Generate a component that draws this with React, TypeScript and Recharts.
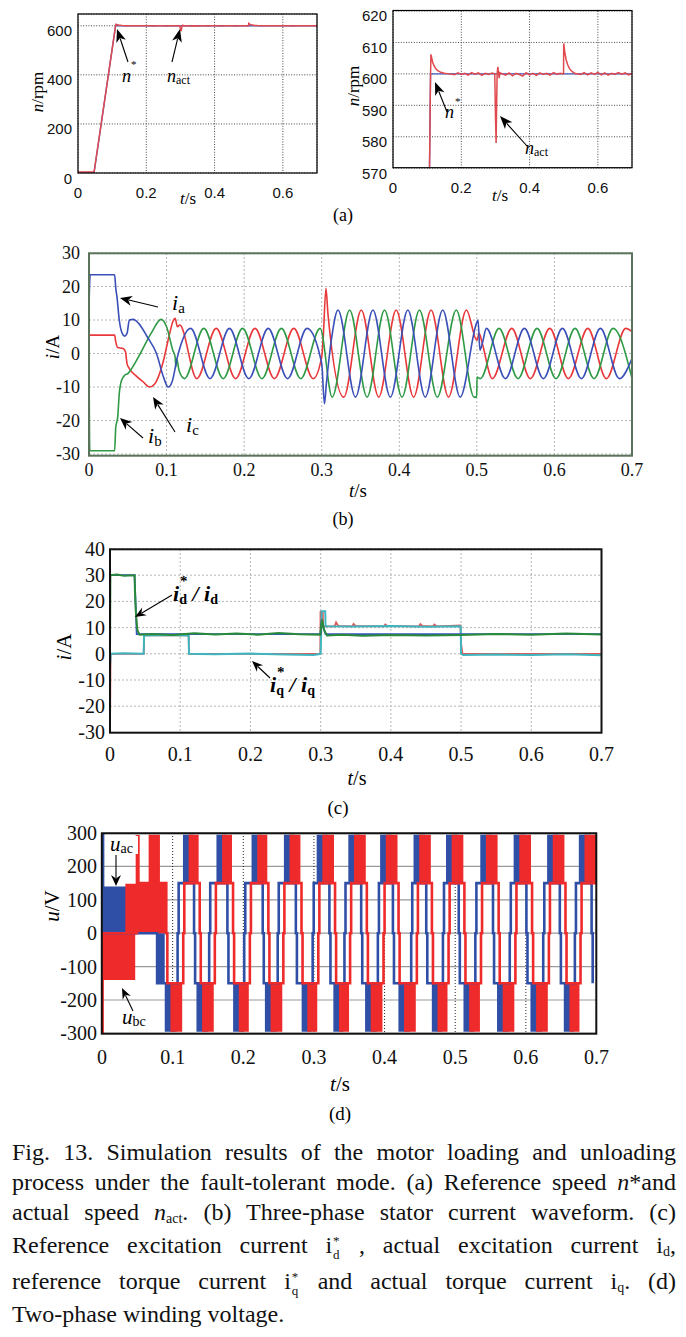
import React from 'react';
import { LineChart, ComposedChart, Line, Area, XAxis, YAxis, CartesianGrid } from 'recharts';

const SERIF = 'Liberation Serif, Tinos, DejaVu Serif, serif';
const SANS = 'Liberation Sans, Arimo, DejaVu Sans, sans-serif';

// ---------------- Panel (a): speed ----------------
const aXTicks = [0, 0.2, 0.4, 0.6];
const aLeftYTicks = [0, 200, 400, 600];
const aRightYTicks = [570, 580, 590, 600, 610, 620];
const speedRef = [[0, 0], [0.047, 0], [0.11, 600], [0.7, 600]];
const speedAct = [
  [0, 4], [0.047, 4], [0.1075, 575], [0.1095, 596], [0.111, 606.2], [0.113, 605.2], [0.116, 603.8], [0.12, 602.6],
  [0.125, 601.7], [0.13, 601.1], [0.14, 600.5], [0.15, 600.2], [0.165, 600], [0.18, 599.7], [0.19, 600.3], [0.2, 599.8],
  [0.21, 600.2], [0.22, 599.6], [0.23, 600.4], [0.24, 599.9], [0.25, 600.3], [0.26, 599.5], [0.27, 600.2], [0.28, 599.8],
  [0.29, 600.3], [0.298, 600], [0.3005, 585], [0.302, 578], [0.3035, 590], [0.305, 600], [0.307, 602.2], [0.309, 600.5],
  [0.311, 598.6], [0.313, 600.4], [0.32, 600], [0.33, 599.6], [0.34, 600.3], [0.35, 599.4], [0.36, 600.2], [0.37, 599.8],
  [0.38, 599.3], [0.39, 600.4], [0.4, 599.7], [0.41, 600.2], [0.42, 599.5], [0.43, 600.3], [0.44, 599.8], [0.45, 600.2],
  [0.46, 599.6], [0.47, 600.4], [0.48, 599.9], [0.49, 600.2], [0.4995, 600], [0.5, 609.7], [0.503, 607], [0.507, 604.5],
  [0.512, 602.8], [0.518, 601.5], [0.525, 600.7], [0.534, 600.1], [0.55, 599.8], [0.56, 600.4], [0.57, 599.7], [0.58, 600.3],
  [0.59, 599.8], [0.6, 600.5], [0.61, 599.7], [0.62, 600.3], [0.63, 599.6], [0.64, 600.2], [0.65, 599.8], [0.66, 600.4],
  [0.67, 599.9], [0.68, 600.3], [0.69, 599.7], [0.7, 600.1],
];

// ---------------- Panel (b): three-phase currents ----------------
const bXTicks = [0, 0.1, 0.2, 0.3, 0.4, 0.5, 0.6, 0.7];
const bYTicks = [-30, -20, -10, 0, 10, 20, 30];
const currentA = [
  [0, 14], [0.0015, 23.5], [0.033, 23.5], [0.0345, 19.5], [0.036, 17], [0.039, 10], [0.042, 6.5], [0.046, 5.2], [0.049, 6],
  [0.052, 10], [0.057, 10.2], [0.064, 9], [0.075, 5], [0.087, 0], [0.096, -7], [0.102, -10], [0.107, -8.5], [0.114, -1],
  [0.131, 7.5], [0.156, -7.5], [0.181, 7.5], [0.206, -7.5], [0.231, 7.5], [0.256, -7.5], [0.281, 7.5], [0.3, -3],
  [0.3035, -15], [0.306, -9], [0.313, 5], [0.321, 13], [0.3435, -13], [0.366, 13], [0.3885, -13], [0.411, 13], [0.4335, -13],
  [0.456, 13], [0.4785, -13], [0.4995, 9], [0.5015, 10], [0.504, 1], [0.507, 3], [0.5123, 7.5], [0.5368, -7.5], [0.5613, 7.5],
  [0.5858, -7.5], [0.6103, 7.5], [0.6348, -7.5], [0.6593, 7.5], [0.6838, -7.5], [0.7, -1.5],
];
const currentB = [
  [0, 0], [0.001, -29], [0.033, -29], [0.0345, -22], [0.037, -19], [0.039, -12], [0.042, -8], [0.046, -6.5], [0.05, -6],
  [0.055, -4.5], [0.065, -0.5], [0.08, 6], [0.093, 10.2], [0.1, 8], [0.108, 1], [0.111, -1], [0.112, -4], [0.113, -1.5],
  [0.116, -5], [0.123, -7.5], [0.148, 7.5], [0.173, -7.5], [0.198, 7.5], [0.223, -7.5], [0.248, 7.5], [0.273, -7.5],
  [0.298, 7.5], [0.3135, -13], [0.336, 13], [0.3585, -13], [0.381, 13], [0.4035, -13], [0.426, 13], [0.449, -13],
  [0.4735, 13], [0.4965, -13], [0.4998, -13], [0.5002, -7], [0.5045, -7.5], [0.5286, 7.5], [0.5531, -7.5], [0.5776, 7.5],
  [0.6021, -7.5], [0.6266, 7.5], [0.6511, -7.5], [0.6756, 7.5], [0.7, -7.4],
];
const currentC = [
  [0, 5], [0.0015, 5.5], [0.033, 5.5], [0.0345, 3.5], [0.037, 1.8], [0.044, 1.5], [0.047, 0.5], [0.049, -3], [0.052, -4.5],
  [0.06, -6.5], [0.07, -8.5], [0.078, -10], [0.085, -9], [0.095, -3], [0.103, 5], [0.108, 9.5], [0.111, 10.5], [0.114, 8],
  [0.117, 8.5], [0.139, -7.5], [0.164, 7.5], [0.189, -7.5], [0.214, 7.5], [0.239, -7.5], [0.264, 7.5], [0.289, -7.5],
  [0.3, -1], [0.302, 5], [0.3055, 19.5], [0.308, 12], [0.3285, -13], [0.351, 13], [0.3735, -13], [0.396, 13], [0.4185, -13],
  [0.441, 13], [0.4635, -13], [0.4865, 13], [0.5, 4], [0.503, 6], [0.507, 3], [0.52, -7.5], [0.545, 7.5], [0.569, -7.5],
  [0.594, 7.5], [0.618, -7.5], [0.643, 7.5], [0.667, -7.5], [0.692, 7.5], [0.7, 6.5],
];

// ---------------- Panel (c): dq currents ----------------
const cYTicks = [-30, -20, -10, 0, 10, 20, 30, 40];
const idRef = [[0, 30], [0.035, 30], [0.038, 7.5], [0.3, 7.5], [0.3015, 13], [0.304, 10], [0.307, 7.5], [0.7, 7.5]];
const idAct = [
  [0, 0], [0.0005, 30], [0.01, 30.3], [0.02, 29.8], [0.035, 30], [0.0355, 24], [0.037, 15], [0.039, 9], [0.042, 7.3],
  [0.06, 7.6], [0.09, 7.2], [0.12, 7.8], [0.15, 7.4], [0.18, 7.7], [0.21, 7.3], [0.24, 7.9], [0.27, 7.5], [0.2995, 7.3],
  [0.3, 9], [0.302, 13], [0.305, 9], [0.309, 7], [0.33, 7.3], [0.36, 6.9], [0.4, 7.2], [0.45, 7], [0.5, 7.2], [0.55, 7.6],
  [0.6, 7.3], [0.65, 7.7], [0.7, 7.4],
];
const iqRef = [
  [0, -30], [0.0008, 0], [0.048, 0], [0.0485, 7], [0.112, 7], [0.1125, 0], [0.2995, 0], [0.2998, 16], [0.303, 16],
  [0.3035, 10.5], [0.32, 10.5], [0.322, 12], [0.325, 10.6], [0.345, 10.5], [0.347, 11.4], [0.35, 10.6], [0.39, 10.5],
  [0.392, 11.2], [0.395, 10.6], [0.44, 10.5], [0.442, 11.3], [0.445, 10.6], [0.46, 10.5], [0.462, 11.2], [0.465, 10.5],
  [0.499, 10.8], [0.5, 4], [0.502, 0], [0.7, 0],
];
const iqAct = [
  [0, -5], [0.001, 0], [0.02, 0.2], [0.048, 0], [0.0485, 7], [0.08, 7.2], [0.112, 7], [0.1125, 0], [0.15, -0.2], [0.2, 0.1],
  [0.25, -0.3], [0.29, -0.5], [0.3, 0], [0.3015, 16.2], [0.3065, 16.2], [0.307, 10.5], [0.35, 10.4], [0.4, 10.6],
  [0.45, 10.3], [0.4995, 10.5], [0.5, 0], [0.503, -0.5], [0.55, -0.3], [0.6, -0.5], [0.65, -0.2], [0.7, -0.6],
];

// ---------------- Panel (d): winding voltages ----------------
const dYTicks = [-300, -200, -100, 0, 100, 200, 300];
// [start, end, low, high] dense PWM regions before steady state
const uacEarlyBlocks = [[0.0005, 0.034, 0, 140], [0.078, 0.0888, -150, 0]];
const ubcEarlyBlocks = [[0.0008, 0.047, -140, 0], [0.033, 0.0915, 0, 148], [0.066, 0.082, 148, 295]];
const uacEarlyLevels = [[0, 300], [0.0015, 0], [0.078, -150]];
const ubcEarlyLevels = [[0, -300], [0.0008, 0], [0.0495, 290], [0.0515, 150], [0.091, 0], [0.0925, -150]];
// [start, end] of the +300 V and -300 V PWM blocks
const ubcPosBlocks = [
  [0.1226, 0.1368], [0.17, 0.184], [0.2197, 0.234], [0.2655, 0.2809], [0.3119, 0.3284], [0.3567, 0.3734], [0.4017, 0.4183],
  [0.449, 0.4655], [0.495, 0.5115], [0.5435, 0.56], [0.5907, 0.6073], [0.6381, 0.6546], [0.683, 0.6996],
];
const ubcNegBlocks = [
  [0.0968, 0.1135], [0.1417, 0.1582], [0.1936, 0.2078], [0.2386, 0.2552], [0.2906, 0.3047], [0.3355, 0.3497], [0.3804, 0.397],
  [0.4276, 0.4442], [0.4749, 0.4891], [0.5197, 0.535], [0.5672, 0.5837], [0.6145, 0.6311], [0.6617, 0.6759],
];
const uacPosBlocks = [
  [0.1146, 0.1288], [0.162, 0.176], [0.2117, 0.226], [0.2575, 0.2729], [0.3039, 0.3204], [0.3487, 0.3654], [0.3937, 0.4103],
  [0.441, 0.4575], [0.487, 0.5035], [0.5355, 0.552], [0.5827, 0.5993], [0.6301, 0.6466], [0.675, 0.6916],
];
const uacNegBlocks = [
  [0.0888, 0.1055], [0.1337, 0.1502], [0.1856, 0.1998], [0.2306, 0.2472], [0.2826, 0.2967], [0.3275, 0.3417], [0.3724, 0.389],
  [0.4196, 0.4362], [0.4669, 0.4811], [0.5117, 0.527], [0.5592, 0.5757], [0.6065, 0.6231], [0.6537, 0.6679],
];

const toPts = (a: number[][]) => a.map(([t, v]) => ({ t, v }));

function stepLevels(early: number[][], pos: number[][], neg: number[][]) {
  const ev = early.map(([t, v]) => ({ t, v }));
  const blocks = [
    ...pos.map(([a, b]) => ({ a, b, p: 1 })),
    ...neg.map(([a, b]) => ({ a, b, p: -1 })),
  ];
  blocks.forEach((bl) => {
    ev.push({ t: bl.a - 0.0015, v: bl.p * 150 });
    ev.push({ t: bl.b + 0.0015, v: 0 });
    ev.push({ t: bl.b + 0.003, v: -bl.p * 150 });
  });
  ev.sort((x, y) => x.t - y.t);
  return ev;
}

function blockData(early: number[][], pos: number[][], neg: number[][]) {
  const out: { t: number; r: number[] }[][] = [];
  early.forEach(([a, b, lo, hi]) => out.push([{ t: a, r: [lo, hi] }, { t: b, r: [lo, hi] }]));
  pos.forEach(([a, b]) => out.push([{ t: a, r: [150, 295] }, { t: b, r: [150, 295] }]));
  neg.forEach(([a, b]) => out.push([{ t: a, r: [-295, -150] }, { t: b, r: [-295, -150] }]));
  return out;
}

const makeYTick = (family: string, size: number, dy = 0) => (p: any) => (
  <text x={p.x} y={p.y + dy} textAnchor="end" dominantBaseline="central" fontFamily={family} fontSize={size} fill="#111">
    {p.payload.value}
  </text>
);
const makeXTick = (family: string, size: number) => (p: any) => (
  <text x={p.x} y={p.y} textAnchor="middle" dominantBaseline="central" fontFamily={family} fontSize={size} fill="#111">
    {p.payload.value}
  </text>
);

type Box = { left: number; top: number; w: number; h: number };
const boxA1: Box = { left: 78, top: 14, w: 239, h: 159 };
const boxA2: Box = { left: 393, top: 10.5, w: 239, h: 157.2 };
const boxB: Box = { left: 89, top: 253.3, w: 543, h: 202.4 };
const boxC: Box = { left: 110, top: 549.3, w: 491.5, h: 183.4 };
const boxD: Box = { left: 101.8, top: 833.3, w: 494.5, h: 200.4 };

function frame(box: Box, yw: number, xh: number) {
  return {
    style: { position: 'absolute' as const, left: box.left - yw, top: box.top - 10 },
    width: yw + box.w + 24,
    height: 10 + box.h + xh,
    margin: { top: 10, right: 24, bottom: 0, left: 0 },
  };
}

function Arrow({ x1, y1, x2, y2, len = 11, w = 4.5, sw = 1.1 }: any) {
  const dx = x2 - x1, dy = y2 - y1;
  const L = Math.hypot(dx, dy);
  const ux = dx / L, uy = dy / L;
  const bx = x2 - ux * len, by = y2 - uy * len;
  const px = -uy * w, py = ux * w;
  return (
    <g>
      <line x1={x1} y1={y1} x2={bx + ux * 3} y2={by + uy * 3} stroke="#000" strokeWidth={sw} />
      <polygon points={`${x2},${y2} ${bx + px},${by + py} ${bx + ux * 3.5},${by + uy * 3.5} ${bx - px},${by - py}`} fill="#000" />
    </g>
  );
}

function PanelA1() {
  const f = frame(boxA1, 50, 40);
  return (
    <div style={f.style}>
      <LineChart width={f.width} height={f.height} margin={f.margin}>
        <CartesianGrid stroke="#333" strokeDasharray="1 1.6" strokeWidth={0.9} />
        <XAxis type="number" dataKey="t" domain={[0, 0.7]} ticks={aXTicks} allowDataOverflow tickLine={false} axisLine={false} height={40} tickSize={0} tickMargin={19} interval={0} tick={makeXTick(SANS, 15)} />
        <YAxis type="number" domain={[0, 648]} ticks={aLeftYTicks} allowDataOverflow tickLine={false} axisLine={false} width={50} tickSize={0} tickMargin={6} interval={0} tick={makeYTick(SANS, 15, 5)} />
        <Line data={toPts(speedRef)} dataKey="v" type="linear" stroke="#4a5fc4" strokeWidth={1.4} dot={false} activeDot={false} isAnimationActive={false} />
        <Line data={toPts(speedAct)} dataKey="v" type="linear" stroke="#e0494d" strokeWidth={1.5} dot={false} activeDot={false} isAnimationActive={false} />
      </LineChart>
    </div>
  );
}

function PanelA2() {
  const f = frame(boxA2, 50, 40);
  return (
    <div style={f.style}>
      <LineChart width={f.width} height={f.height} margin={f.margin}>
        <CartesianGrid stroke="#333" strokeDasharray="1 1.6" strokeWidth={0.9} />
        <XAxis type="number" dataKey="t" domain={[0, 0.7]} ticks={aXTicks} allowDataOverflow tickLine={false} axisLine={false} height={40} tickSize={0} tickMargin={19} interval={0} tick={makeXTick(SANS, 15)} />
        <YAxis type="number" domain={[570, 620]} ticks={aRightYTicks} allowDataOverflow tickLine={false} axisLine={false} width={50} tickSize={0} tickMargin={6} interval={0} tick={makeYTick(SANS, 15, 5)} />
        <Line data={toPts(speedRef)} dataKey="v" type="linear" stroke="#4a5fc4" strokeWidth={1.4} dot={false} activeDot={false} isAnimationActive={false} />
        <Line data={toPts(speedAct)} dataKey="v" type="linear" stroke="#e0494d" strokeWidth={1.5} dot={false} activeDot={false} isAnimationActive={false} />
      </LineChart>
    </div>
  );
}

function PanelB() {
  const f = frame(boxB, 60, 40);
  return (
    <div style={f.style}>
      <LineChart width={f.width} height={f.height} margin={f.margin}>
        <CartesianGrid stroke="#b5b5b5" strokeDasharray="2 2" strokeWidth={1} />
        <XAxis type="number" dataKey="t" domain={[0, 0.7]} ticks={bXTicks} allowDataOverflow tickLine={false} axisLine={false} height={40} tickSize={0} tickMargin={15} interval={0} tick={makeXTick(SERIF, 18)} />
        <YAxis type="number" domain={[-30.4, 30]} ticks={bYTicks} allowDataOverflow tickLine={false} axisLine={false} width={60} tickSize={0} tickMargin={9} interval={0} tick={makeYTick(SERIF, 18)} />
        <Line data={toPts(currentC)} dataKey="v" type="monotone" stroke="#e8383b" strokeWidth={1.6} dot={false} activeDot={false} isAnimationActive={false} />
        <Line data={toPts(currentB)} dataKey="v" type="monotone" stroke="#2f9a45" strokeWidth={1.6} dot={false} activeDot={false} isAnimationActive={false} />
        <Line data={toPts(currentA)} dataKey="v" type="monotone" stroke="#3a4fb8" strokeWidth={1.6} dot={false} activeDot={false} isAnimationActive={false} />
      </LineChart>
    </div>
  );
}

function PanelC() {
  const f = frame(boxC, 70, 40);
  return (
    <div style={f.style}>
      <LineChart width={f.width} height={f.height} margin={f.margin}>
        <CartesianGrid stroke="#b5b5b5" strokeDasharray="2 2" strokeWidth={1} />
        <XAxis type="number" dataKey="t" domain={[0, 0.7]} ticks={bXTicks} allowDataOverflow tickLine={false} axisLine={false} height={40} tickSize={0} tickMargin={22} interval={0} tick={makeXTick(SERIF, 20)} />
        <YAxis type="number" domain={[-30, 40]} ticks={cYTicks} allowDataOverflow tickLine={false} axisLine={false} width={70} tickSize={0} tickMargin={5} interval={0} tick={makeYTick(SERIF, 20)} />
        <Line data={toPts(iqRef)} dataKey="v" type="linear" stroke="#e0585a" strokeWidth={1.8} dot={false} activeDot={false} isAnimationActive={false} />
        <Line data={toPts(iqAct)} dataKey="v" type="linear" stroke="#3fb6bf" strokeWidth={2} dot={false} activeDot={false} isAnimationActive={false} />
        <Line data={toPts(idRef)} dataKey="v" type="linear" stroke="#3552c2" strokeWidth={1.8} dot={false} activeDot={false} isAnimationActive={false} />
        <Line data={toPts(idAct)} dataKey="v" type="linear" stroke="#2a8a3c" strokeWidth={2} dot={false} activeDot={false} isAnimationActive={false} />
      </LineChart>
    </div>
  );
}

function PanelD() {
  const f = frame(boxD, 70, 40);
  const acBlocks = blockData(uacEarlyBlocks, uacPosBlocks, uacNegBlocks);
  const bcBlocks = blockData(ubcEarlyBlocks, ubcPosBlocks, ubcNegBlocks);
  const acSteps = stepLevels(uacEarlyLevels, uacPosBlocks, uacNegBlocks);
  const bcSteps = stepLevels(ubcEarlyLevels, ubcPosBlocks, ubcNegBlocks);
  const BLUE = '#2f4fa6';
  const RED = '#ee2a2a';
  return (
    <div style={f.style}>
      <ComposedChart width={f.width} height={f.height} margin={f.margin}>
        <CartesianGrid vertical={false} stroke="#9a9a9a" strokeWidth={1.2} />
        <CartesianGrid horizontal={false} stroke="#222" strokeDasharray="1 2" strokeWidth={1} />
        <XAxis type="number" dataKey="t" domain={[0, 0.7]} ticks={bXTicks} allowDataOverflow tickLine={false} axisLine={false} height={40} tickSize={0} tickMargin={24} interval={0} tick={makeXTick(SERIF, 20)} />
        <YAxis type="number" domain={[-300, 300]} ticks={dYTicks} allowDataOverflow tickLine={false} axisLine={false} width={70} tickSize={0} tickMargin={5} interval={0} tick={makeYTick(SERIF, 20)} />
        {acBlocks.map((d, i) => (
          <Area key={'ab' + i} data={d} dataKey="r" type="linear" stroke="none" fill={BLUE} fillOpacity={1} dot={false} activeDot={false} isAnimationActive={false} />
        ))}
        <Line data={acSteps} dataKey="v" type="stepAfter" stroke={BLUE} strokeWidth={2.6} dot={false} activeDot={false} isAnimationActive={false} />
        {bcBlocks.map((d, i) => (
          <Area key={'rb' + i} data={d} dataKey="r" type="linear" stroke="none" fill={RED} fillOpacity={1} dot={false} activeDot={false} isAnimationActive={false} />
        ))}
        <Line data={bcSteps} dataKey="v" type="stepAfter" stroke={RED} strokeWidth={2.6} dot={false} activeDot={false} isAnimationActive={false} />
      </ComposedChart>
    </div>
  );
}

function Border({ box, color = '#000', sw = 1.2 }: { box: Box; color?: string; sw?: number }) {
  return <rect x={box.left} y={box.top} width={box.w} height={box.h} fill="none" stroke={color} strokeWidth={sw} />;
}

function Overlay() {
  const it = { fontStyle: 'italic' as const };
  return (
    <svg width={686} height={1337} style={{ position: 'absolute', left: 0, top: 0, pointerEvents: 'none' }}>
      <Border box={boxA1} sw={1.2} />
      <Border box={boxA2} sw={1.2} />
      <Border box={boxB} color="#5a735a" sw={2} />
      <Border box={boxC} color="#111" sw={2} />
      <Border box={boxD} color="#111" sw={2} />

      {/* (a) left */}
      <text transform="translate(37,92) rotate(-90)" textAnchor="middle" dominantBaseline="central" fontFamily={SERIF} fontSize={17}>
        <tspan style={it}>n</tspan>/rpm
      </text>
      <text x={188} y={198} textAnchor="middle" dominantBaseline="central" fontFamily={SERIF} fontSize={17}>
        <tspan style={it}>t</tspan>/s
      </text>
      <Arrow x1={128} y1={62} x2={117} y2={29} len={13} w={5} />
      <text x={122} y={82} fontFamily={SERIF} fontSize={18} style={it}>n</text>
      <text x={131} y={68} fontFamily={SERIF} fontSize={11}>*</text>
      <Arrow x1={172} y1={62} x2={180} y2={29} len={13} w={5} />
      <text x={167} y={82} fontFamily={SERIF} fontSize={18}>
        <tspan style={it}>n</tspan>
        <tspan fontSize={12} dy={2}>act</tspan>
      </text>

      {/* (a) right */}
      <text transform="translate(353,86) rotate(-90)" textAnchor="middle" dominantBaseline="central" fontFamily={SERIF} fontSize={17}>
        <tspan style={it}>n</tspan>/rpm
      </text>
      <text x={500} y={195} textAnchor="middle" dominantBaseline="central" fontFamily={SERIF} fontSize={17}>
        <tspan style={it}>t</tspan>/s
      </text>
      <Arrow x1={447} y1={112} x2={435} y2={82} len={13} w={5} />
      <text x={445} y={118} fontFamily={SERIF} fontSize={18} style={it}>n</text>
      <text x={455} y={105} fontFamily={SERIF} fontSize={11}>*</text>
      <Arrow x1={527} y1={146} x2={500} y2={116} len={13} w={5} />
      <text x={525} y={154} fontFamily={SERIF} fontSize={18}>
        <tspan style={it}>n</tspan>
        <tspan fontSize={12} dy={2}>act</tspan>
      </text>
      <text x={343} y={215} textAnchor="middle" dominantBaseline="central" fontFamily={SERIF} fontSize={18}>(a)</text>

      {/* (b) */}
      <text transform="translate(52,347) rotate(-90)" textAnchor="middle" dominantBaseline="central" fontFamily={SERIF} fontSize={19}>
        <tspan style={it}>i</tspan>/A
      </text>
      <text x={358} y={490} textAnchor="middle" dominantBaseline="central" fontFamily={SERIF} fontSize={19}>
        <tspan style={it}>t</tspan>/s
      </text>
      <text x={343} y={519} textAnchor="middle" dominantBaseline="central" fontFamily={SERIF} fontSize={18}>(b)</text>
      <Arrow x1={158} y1={307} x2={120} y2={298} len={12} w={5} />
      <text x={172} y={310} fontFamily={SERIF} fontSize={22}>
        <tspan style={it}>i</tspan>
        <tspan fontSize={15} dy={3}>a</tspan>
      </text>
      <Arrow x1={143} y1={438} x2={120} y2={418} len={12} w={5} />
      <text x={148} y={443} fontFamily={SERIF} fontSize={22}>
        <tspan style={it}>i</tspan>
        <tspan fontSize={15} dy={3}>b</tspan>
      </text>
      <Arrow x1={175} y1={432} x2={153} y2={397} len={12} w={5} />
      <text x={186} y={432} fontFamily={SERIF} fontSize={22}>
        <tspan style={it}>i</tspan>
        <tspan fontSize={15} dy={3}>c</tspan>
      </text>

      {/* (c) */}
      <text transform="translate(64,647) rotate(-90)" textAnchor="middle" dominantBaseline="central" fontFamily={SERIF} fontSize={21}>
        <tspan style={it}>i</tspan>/A
      </text>
      <text x={357} y={778} textAnchor="middle" dominantBaseline="central" fontFamily={SERIF} fontSize={20}>
        <tspan style={it}>t</tspan>/s
      </text>
      <text x={338} y={807} textAnchor="middle" dominantBaseline="central" fontFamily={SERIF} fontSize={19}>(c)</text>
      <Arrow x1={172} y1={595} x2={135} y2={617} len={11} w={4.5} />
      <text x={173} y={601} fontFamily={SERIF} fontSize={22} fontWeight="bold" style={it}>
        i<tspan fontSize={14} dy={3} fontStyle="normal">d</tspan>
        <tspan dy={-3}> / i</tspan>
        <tspan fontSize={14} dy={3} fontStyle="normal">d</tspan>
      </text>
      <text x={180} y={586} fontFamily={SERIF} fontSize={15} fontWeight="bold">*</text>
      <Arrow x1={270} y1={678} x2={252} y2={661} len={11} w={4.5} />
      <text x={270} y={692} fontFamily={SERIF} fontSize={22} fontWeight="bold" style={it}>
        i<tspan fontSize={14} dy={3} fontStyle="normal">q</tspan>
        <tspan dy={-3}> / i</tspan>
        <tspan fontSize={14} dy={3} fontStyle="normal">q</tspan>
      </text>
      <text x={277} y={677} fontFamily={SERIF} fontSize={15} fontWeight="bold">*</text>

      {/* (d) */}
      <text transform="translate(52,906) rotate(-90)" textAnchor="middle" dominantBaseline="central" fontFamily={SERIF} fontSize={21}>
        <tspan style={it}>u</tspan>/V
      </text>
      <text x={340} y={1084} textAnchor="middle" dominantBaseline="central" fontFamily={SERIF} fontSize={21}>
        <tspan style={it}>t</tspan>/s
      </text>
      <text x={340} y={1113} textAnchor="middle" dominantBaseline="central" fontFamily={SERIF} fontSize={19}>(d)</text>
      <rect x={108} y={836} width={30} height={18} fill="#fff" />
      <text x={110} y={851} fontFamily={SERIF} fontSize={21}>
        <tspan style={it}>u</tspan>
        <tspan fontSize={14} dy={2}>ac</tspan>
      </text>
      <Arrow x1={116} y1={855} x2={116} y2={886} len={11} w={5} />
      <Arrow x1={133} y1={1011} x2={122} y2={988} len={11} w={4.5} />
      <text x={122} y={1024} fontFamily={SERIF} fontSize={21}>
        <tspan style={it}>u</tspan>
        <tspan fontSize={14} dy={2}>bc</tspan>
      </text>
    </svg>
  );
}

const capLine: React.CSSProperties = {
  position: 'absolute',
  left: 12,
  width: 664,
  fontFamily: SERIF,
  fontSize: 24,
  lineHeight: '28px',
  height: 28,
  textAlign: 'justify',
  textAlignLast: 'justify',
  color: '#111',
  whiteSpace: 'nowrap',
};
const subSt: React.CSSProperties = { fontSize: 14, verticalAlign: 'baseline', position: 'relative', top: 3 };

function Stack({ sub }: { sub: string }) {
  return (
    <span style={{ display: 'inline-block', position: 'relative', width: 9, height: 10 }}>
      <span style={{ position: 'absolute', left: 1, top: -16, fontSize: 13 }}>*</span>
      <span style={{ position: 'absolute', left: 1, top: -2, fontSize: 13 }}>{sub}</span>
    </span>
  );
}

function Caption() {
  return (
    <div>
      <div style={{ ...capLine, top: 1138 }}>Fig. 13. Simulation results of the motor loading and unloading</div>
      <div style={{ ...capLine, top: 1168 }}>
        process under the fault-tolerant mode. (a) Reference speed <i>n</i>*and
      </div>
      <div style={{ ...capLine, top: 1198 }}>
        actual speed <i>n</i><span style={subSt}>act</span>. (b) Three-phase stator current waveform. (c)
      </div>
      <div style={{ ...capLine, top: 1231 }}>
        Reference excitation current i<Stack sub="d" /> , actual excitation current i<span style={subSt}>d</span>,
      </div>
      <div style={{ ...capLine, top: 1267 }}>
        reference torque current i<Stack sub="q" /> and actual torque current i<span style={subSt}>q</span>. (d)
      </div>
      <div style={{ ...capLine, top: 1300, textAlignLast: 'left' }}>Two-phase winding voltage.</div>
    </div>
  );
}

export default function App() {
  return (
    <div style={{ position: 'absolute', left: 0, top: 0, width: 686, height: 1337, background: '#fff', overflow: 'hidden' }}>
      <PanelA1 />
      <PanelA2 />
      <PanelB />
      <PanelC />
      <PanelD />
      <Overlay />
      <Caption />
    </div>
  );
}
